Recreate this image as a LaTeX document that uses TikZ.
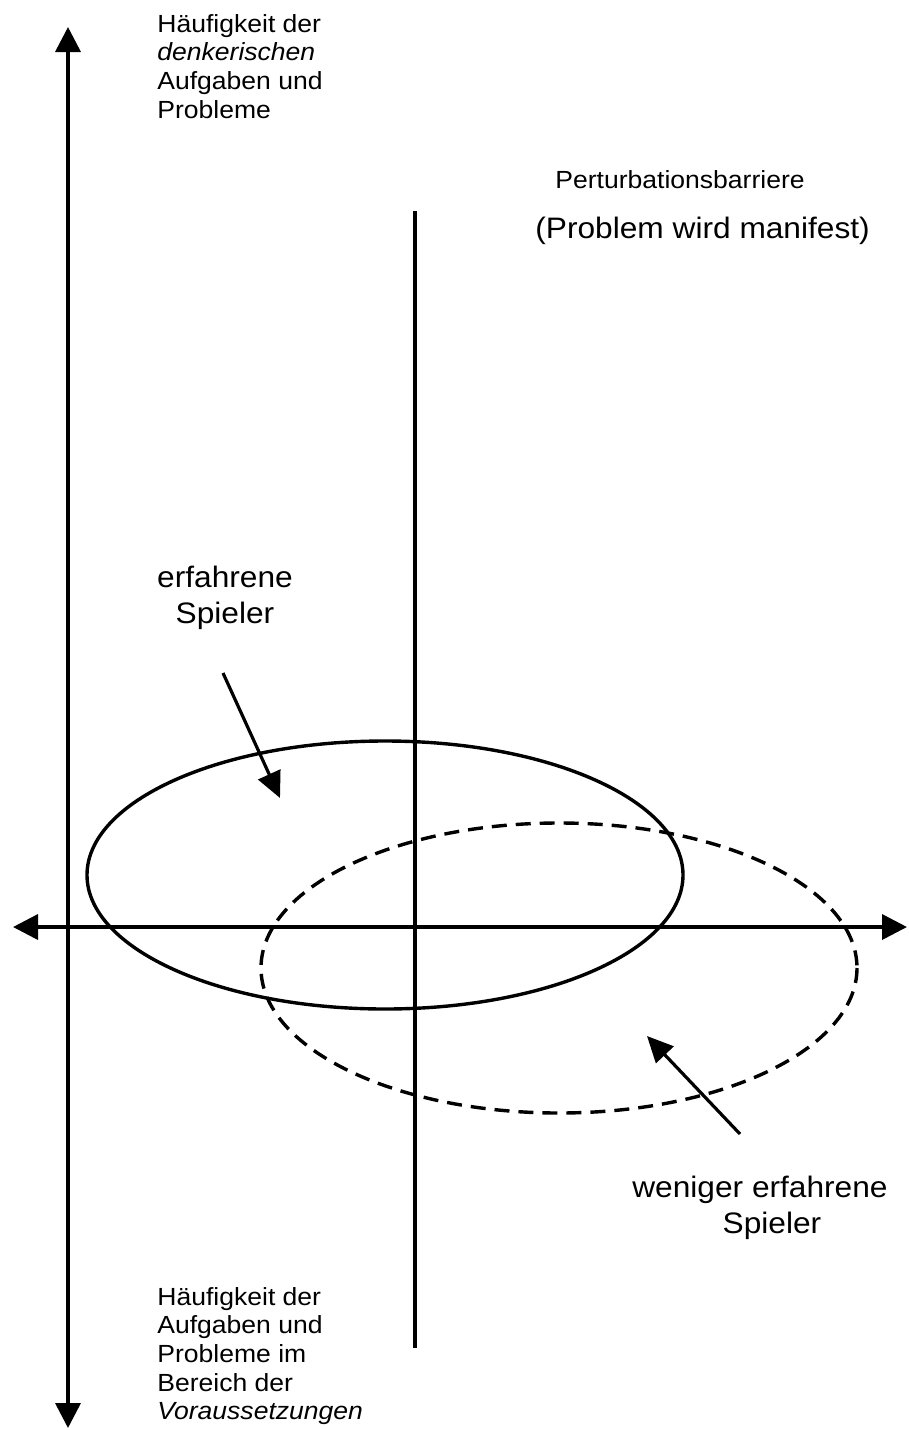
\documentclass[tikz,border=0pt]{standalone}
\usepackage{fontspec}
\setmainfont{Liberation Sans}[FakeStretch=1.07]
\usetikzlibrary{arrows.meta}

\begin{document}
\begin{tikzpicture}[x=0.5pt,y=-0.5pt,
  axis/.style={line width=1.8pt,{Triangle[length=12.5pt,width=12.5pt]}-{Triangle[length=12.5pt,width=12.5pt]}},
  pointer/.style={line width=1.6pt,-{Triangle[length=13pt,width=12pt]}},
  curve/.style={line width=1.7pt},
  small/.style={font=\fontsize{12.4}{14.3}\selectfont,inner sep=0pt,align=left},
  big/.style={font=\fontsize{14.8}{17.8}\selectfont,inner sep=0pt,align=center}]
\useasboundingbox (0,0) rectangle (909,1430);
\coordinate (top) at (68,27);
\coordinate (bottom) at (68,1428);
\coordinate (left) at (13,927);
\coordinate (right) at (907,927);
\coordinate (barriertop) at (415,211);
\coordinate (barrierbottom) at (415,1348);
\draw[axis] (bottom) -- (top);
\draw[axis] (left) -- (right);
\draw[curve] (barriertop) -- (barrierbottom);
\draw[curve] (385,875) ellipse [x radius=298,y radius=134];
\draw[curve,dash pattern=on 7.5pt off 4.5pt] (559,968) ellipse [x radius=298,y radius=145];
\node[small,anchor=north west] (ylabeltop) at (157,14) {Häufigkeit der\\\textit{denkerischen}\\Aufgaben und\\Probleme};
\node[small,anchor=north west] (ylabelbottom) at (157,1287) {Häufigkeit der\\Aufgaben und\\Probleme im\\Bereich der\\\textit{Voraussetzungen}};
\node[small,anchor=base west] (barrier) at (555,188) {Perturbationsbarriere};
\node[big,anchor=base west] (manifest) at (535,238) {(Problem wird manifest)};
\node[big,anchor=north] (experienced) at (225,566) {erfahrene\\Spieler};
\node[big,anchor=north] (novice) at (760,1176) {weniger erfahrene\\\hspace*{12pt}Spieler};
\coordinate (p1) at (223,673);
\coordinate (q1) at (280,798);
\coordinate (p2) at (740,1134);
\coordinate (q2) at (647,1036);
\draw[pointer] (p1) -- (q1);
\draw[pointer] (p2) -- (q2);
\end{tikzpicture}
\end{document}
